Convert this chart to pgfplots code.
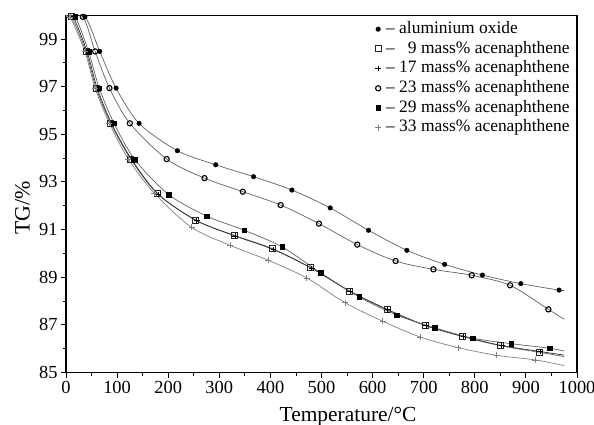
\documentclass[border=0pt]{standalone}
\usepackage{fontspec}
\setmainfont{Liberation Serif}
\usepackage{pgfplots}
\pgfplotsset{compat=1.18}
\definecolor{lgray}{gray}{0.38}
\definecolor{sgray}{gray}{0.5}
\begin{document}
\begin{tikzpicture}
\begin{axis}[
 scale only axis, width=511bp, height=357.3bp,
 xmin=0, xmax=1000, ymin=85, ymax=100,
 xtick={0,100,...,1000}, minor x tick num=1,
 ytick={85,87,...,99}, minor y tick num=1,
 tick align=outside, xtick pos=bottom, ytick pos=left,
 major tick length=5bp, minor tick length=3bp,
 tick style={black, line width=0.9bp},
 axis line style={line width=1.3bp},
 ticklabel style={font=\fontsize{18.5}{18.5}\selectfont},
 /pgf/number format/assume math mode=true,
 /pgf/number format/1000 sep={},
 xlabel={Temperature/°C},
 xlabel style={font=\fontsize{21.5}{21.5}\selectfont, at={(axis description cs:0.552,0)}, anchor=base, yshift=-49.2bp},
 legend cell align=left,
 legend style={draw=none, fill=none, at={(axis description cs:0.986,0.989)}, anchor=north east,
   font=\fontsize{17.5}{19.7}\selectfont, inner sep=0pt, row sep=0pt,
   nodes={inner sep=0pt, text height=14bp, text depth=5.7bp},
   /tikz/every odd column/.append style={column sep=5bp}},
]
% ---- lines ----
\addplot[smooth, lgray, line width=0.7bp, forget plot] coordinates {
 (0,99.95) (37,99.93) (66,98.48) (98,96.94) (143,95.46) (218,94.31) (293,93.72) (367,93.22) (442,92.66) (517,91.91) (592,90.97) (667,90.13) (741,89.54) (815,89.09) (890,88.73) (965,88.46) (975,88.45)};
\addplot[smooth, lgray, line width=0.7bp, forget plot] coordinates {
 (0,99.95) (11,99.93) (39,98.48) (59,96.94) (87.5,95.46) (126.5,93.96) (179,92.5) (254,91.39) (329,90.76) (404,90.2) (479,89.4) (554,88.42) (628,87.65) (703,86.98) (776,86.51) (851,86.12) (926,85.85) (975,85.67)};
\addplot[smooth, black!80, line width=0.7bp, forget plot] coordinates {
 (0,99.95) (14,99.93) (41,98.48) (61,96.94) (89,95.46) (128,93.96) (181,92.48) (256,91.37) (331,90.73) (406,90.16) (481,89.37) (556,88.41) (630,87.63) (705,86.96) (778,86.51) (853,86.13) (928,85.88) (975,85.73)};
\addplot[smooth, lgray, line width=0.7bp, forget plot] coordinates {
 (0,99.95) (33,99.93) (57,98.48) (85,96.94) (125,95.46) (197,93.96) (271,93.16) (346,92.59) (420,92.03) (495,91.25) (570,90.37) (645,89.68) (719,89.33) (794,89.08) (869,88.66) (944,87.65) (975,87.23)};
\addplot[smooth, lgray, line width=0.7bp, forget plot] coordinates {
 (0,99.95) (18,99.93) (44,98.48) (65,96.94) (94,95.46) (135,93.93) (201,92.47) (275,91.57) (349,90.97) (423,90.27) (498,89.19) (574,88.17) (647,87.41) (721,86.88) (796,86.44) (871,86.21) (946,86.02) (975,85.9)};
\addplot[smooth, sgray, line width=0.7bp, forget plot] coordinates {
 (0,99.95) (8,99.93) (37,98.48) (57,96.94) (85,95.46) (122,93.96) (173,92.52) (246,91.09) (321,90.34) (396,89.71) (471,88.97) (546,87.93) (620,87.15) (693,86.49) (768,86.04) (843,85.72) (918,85.53) (975,85.29)};
% ---- markers ----
\addplot[only marks, mark=*, mark size=2.3bp, black] coordinates {
 (37,99.93) (66,98.48) (98,96.94) (143,95.46) (218,94.31) (293,93.72) (367,93.22) (442,92.66) (517,91.91) (592,90.97) (667,90.13) (741,89.54) (815,89.09) (890,88.73) (965,88.46)};
\addlegendentry{– aluminium oxide}
\addplot[only marks, mark=square, mark size=3bp, line width=0.8bp, black!85] coordinates {
 (11,99.93) (39,98.48) (59,96.94) (87.5,95.46) (126.5,93.96) (179,92.5) (254,91.39) (329,90.76) (404,90.2) (479,89.4) (554,88.42) (628,87.65) (703,86.98) (776,86.51) (851,86.12) (926,85.85)};
\addlegendentry{– \phantom{1}9 mass\% acenaphthene}
\addplot[only marks, mark=+, mark size=2.8bp, line width=1bp, black] coordinates {
 (14,99.93) (41,98.48) (61,96.94) (89,95.46) (128,93.96) (181,92.48) (256,91.37) (331,90.73) (406,90.16) (481,89.37) (556,88.41) (630,87.63) (705,86.96) (778,86.51) (853,86.13) (928,85.88)};
\addlegendentry{– 17 mass\% acenaphthene}
\addplot[only marks, mark=o, mark size=2.6bp, line width=1.1bp, black] coordinates {
 (33,99.93) (57,98.48) (85,96.94) (125,95.46) (197,93.96) (271,93.16) (346,92.59) (420,92.03) (495,91.25) (570,90.37) (645,89.68) (719,89.33) (794,89.08) (869,88.66) (944,87.65)};
\addlegendentry{– 23 mass\% acenaphthene}
\addplot[only marks, mark=square*, mark size=2.3bp, black] coordinates {
 (18,99.93) (44,98.48) (65,96.94) (94,95.46) (135,93.93) (201,92.47) (275,91.57) (349,90.97) (423,90.27) (498,89.19) (574,88.17) (647,87.41) (721,86.88) (796,86.44) (871,86.21) (946,86.02)};
\addlegendentry{– 29 mass\% acenaphthene}
\addplot[only marks, mark=+, mark size=3bp, line width=0.7bp, sgray] coordinates {
 (8,99.93) (37,98.48) (57,96.94) (85,95.46) (122,93.96) (173,92.52) (246,91.09) (321,90.34) (396,89.71) (471,88.97) (546,87.93) (620,87.15) (693,86.49) (768,86.04) (843,85.72) (918,85.53)};
\addlegendentry{– 33 mass\% acenaphthene}
\end{axis}
\node[rotate=90, font=\fontsize{22}{22}\selectfont, inner sep=0pt, anchor=center]
  at ([xshift=-43.5bp, yshift=164.4bp]current axis.south west) {TG/\%};
\pgfresetboundingbox
\path (current axis.south west) ++(-66bp,-52.5bp) rectangle ++(594bp,425bp);
\end{tikzpicture}
\end{document}
